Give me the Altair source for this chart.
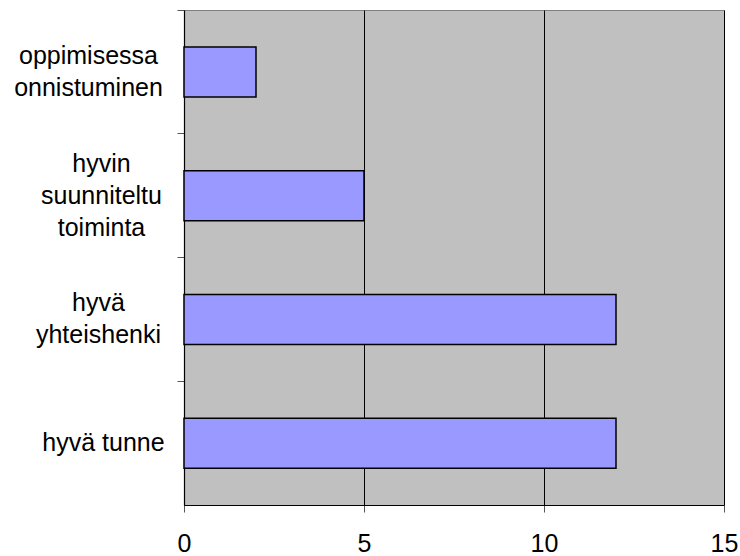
import altair as alt
import pandas as pd

categories = [
    "oppimisessa\nonnistuminen",
    "hyvin\nsuunniteltu\ntoiminta",
    "hyvä\nyhteishenki",
    "hyvä tunne",
]
values = [2, 5, 12, 12]
x_ticks = [0, 5, 10, 15]

df = pd.DataFrame({"category": categories, "value": values})

FONT = "Liberation Sans"

label_pad = {
    "condition": [
        {"test": "indexof(datum.value, 'onnistuminen') >= 0", "value": 89},
        {"test": "indexof(datum.value, 'suunniteltu') >= 0", "value": 76},
        {"test": "indexof(datum.value, 'yhteishenki') >= 0", "value": 79},
    ],
    "value": 74,
}
# multi-line labels are anchored at their first line; shift them up to center the block
label_off = {
    "condition": [
        {"test": "indexof(datum.value, 'suunniteltu') >= 0", "value": -32},
        {"test": "indexof(datum.value, '\\n') >= 0", "value": -16},
    ],
    "value": 0,
}

chart = (
    alt.Chart(df)
    .mark_bar(color="#9999FF", stroke="black", strokeWidth=1.5, size=50)
    .encode(
        x=alt.X(
            "value:Q",
            scale=alt.Scale(domain=[0, 15], nice=False),
            axis=alt.Axis(
                values=x_ticks,
                title=None,
                orient="bottom",
                grid=True,
                gridColor="black",
                gridWidth=1,
                domainColor="black",
                domainWidth=1.2,
                tickColor="#555555",
                tickSize=7,
                labelFont=FONT,
                labelFontSize=25,
                labelColor="black",
                labelPadding=19,
                labelFlush=False,
                labelOverlap=False,
            ),
        ),
        y=alt.Y(
            "category:N",
            sort=categories,
            scale=alt.Scale(paddingInner=0, paddingOuter=0),
            axis=alt.Axis(
                title=None,
                bandPosition=0,
                domainColor="black",
                domainWidth=1.2,
                tickColor="#555555",
                tickSize=7,
                labelFont=FONT,
                labelFontSize=25,
                labelColor="black",
                labelAlign="center",
                labelBaseline="middle",
                labelLineHeight=32,
                labelPadding=label_pad,
                labelOffset=label_off,
                labelExpr="split(datum.label, '\\n')",
            ),
        ),
    )
    .properties(
        width=540,
        height=495,
        autosize=alt.AutoSizeParams(type="none"),
        padding={"left": 184, "top": 10, "right": 16, "bottom": 51},
        background="white",
    )
    .configure_view(fill="#C0C0C0", stroke="#808080", strokeWidth=1)
)

chart.save("out.html", embed_options={"renderer": "svg", "actions": False})
